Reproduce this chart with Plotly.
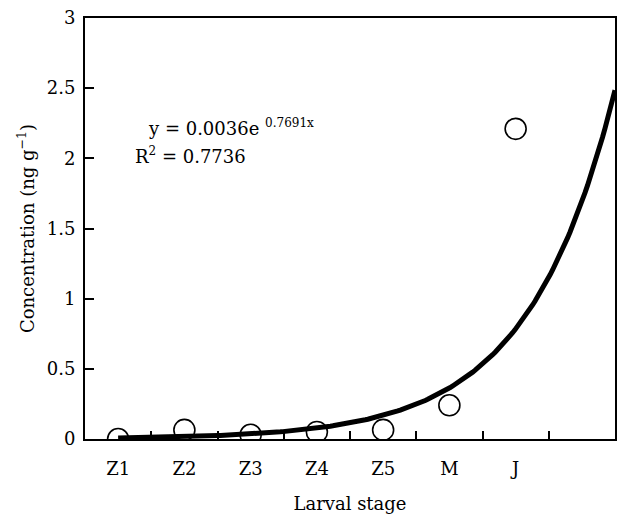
import numpy as np
import plotly.graph_objects as go

stages = ["Z1", "Z2", "Z3", "Z4", "Z5", "M", "J"]
stage_pos = [1, 2, 3, 4, 5, 6, 7]
concentration = [0.0, 0.065, 0.03, 0.05, 0.065, 0.24, 2.21]
y_ticks = [0, 0.5, 1, 1.5, 2, 2.5, 3]
y_ticklabels = ["0", "0.5", "1", "1.5", "2", "2.5", "3"]
boundary_ticks = [1.5, 2.5, 3.5, 4.5, 5.5, 6.5, 7.5]

# Exponential trendline as reported on the chart
coef_a = 0.0036
coef_b = 0.7691
trend_x = np.linspace(1, 8.5, 200)
trend_y = coef_a * np.exp(coef_b * trend_x)

FONT = "DejaVu Serif"
FS = 18

fig = go.Figure()
fig.add_trace(go.Scatter(x=trend_x, y=trend_y, mode="lines",
                         line=dict(color="black", width=5), showlegend=False))
fig.add_trace(go.Scatter(x=stage_pos, y=concentration, mode="markers",
                         marker=dict(symbol="circle-open", size=21,
                                     color="black", line=dict(width=1.6)),
                         showlegend=False))
# invisible helper trace so the tick-only overlay axis is drawn
fig.add_trace(go.Scatter(x=[1], y=[0], yaxis="y2", mode="markers",
                         marker=dict(opacity=0), showlegend=False, hoverinfo="skip"))

fig.update_layout(
    width=624, height=518,
    margin=dict(l=85, r=7, t=13, b=77),
    plot_bgcolor="white", paper_bgcolor="white",
    font=dict(family=FONT, size=FS, color="black"),
    xaxis=dict(range=[0.5, 8.5], tickmode="array", tickvals=stage_pos, ticktext=stages,
               ticks="outside", ticklen=0, tickcolor="rgba(0,0,0,0)",
               showgrid=False, zeroline=False, ticklabelstandoff=12,
               minor=dict(tickmode="array", tickvals=boundary_ticks, ticks="inside",
                          ticklen=8, tickcolor="black", tickwidth=1.5, showgrid=False),
               showline=True, linecolor="black", linewidth=1.8, mirror=True,
               title=dict(text="Larval stage", font=dict(size=FS), standoff=20)),
    yaxis=dict(range=[0, 3], tickmode="array", tickvals=y_ticks,
               ticktext=y_ticklabels,
               ticks="inside", ticklen=9, tickcolor="black", tickwidth=1.5,
               showgrid=False, zeroline=False, ticklabelstandoff=4,
               showline=True, linecolor="black", linewidth=1.8, mirror=True,
               title=dict(text="Concentration (ng g<sup>−1</sup>)", font=dict(size=FS),
                          standoff=8)),
    yaxis2=dict(range=[0, 3], overlaying="y", side="left", anchor="x",
                tickmode="array", tickvals=y_ticks, showticklabels=False,
                ticks="inside", ticklen=9, tickcolor="black", tickwidth=1.5,
                showgrid=False, zeroline=False, showline=False),
    annotations=[
        dict(x=1.42, y=2.22, xref="x", yref="y", xanchor="left", yanchor="middle",
             text="y = 0.0036e <sup><span style='font-size:12px'>0.7691x</span></sup>",
             showarrow=False, font=dict(size=FS)),
        dict(x=1.22, y=2.02, xref="x", yref="y", xanchor="left", yanchor="middle",
             text="R<sup><span style='font-size:12px'>2</span></sup> = 0.7736",
             showarrow=False, font=dict(size=FS)),
    ],
)

fig.write_html("out.html")
